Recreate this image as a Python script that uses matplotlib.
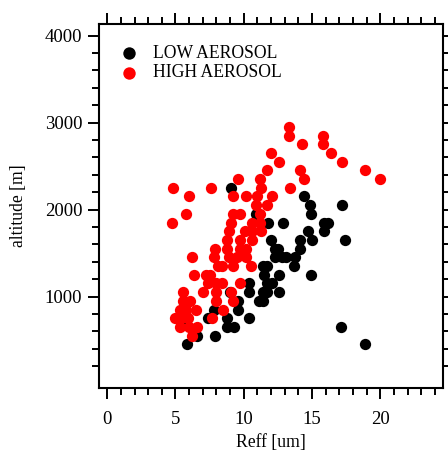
import matplotlib
matplotlib.use("Agg")
import matplotlib.pyplot as plt
from matplotlib.ticker import FixedLocator

plt.rcParams['font.family'] = ['Liberation Serif', 'DejaVu Serif']

# LOW AEROSOL (black) : Reff [um] and altitude [m]
low_reff = [9.05,
            14.45,
            14.85, 17.2,
            10.9, 14.95,
            11.8, 12.9, 15.9, 16.2,
            14.7, 15.85,
            12.0, 14.1, 15.0, 17.45,
            12.3, 12.5, 14.1,
            12.3, 12.8, 13.1, 13.75,
            11.4, 11.7, 13.7,
            11.5, 12.6, 14.95,
            10.4, 11.7, 12.05,
            9.0, 10.4, 11.4, 11.7, 12.6,
            9.6, 11.1, 11.4,
            5.6, 7.8, 9.6,
            5.6, 7.4, 8.75, 10.4,
            8.75, 9.3, 17.1,
            6.55, 7.9,
            5.85, 18.9]
low_alt = [2250,
           2150,
           2050, 2050,
           1950, 1950,
           1850, 1850, 1850, 1850,
           1750, 1750,
           1650, 1650, 1650, 1650,
           1550, 1550, 1550,
           1450, 1450, 1450, 1450,
           1350, 1350, 1350,
           1250, 1250, 1250,
           1150, 1150, 1150,
           1050, 1050, 1050, 1050, 1050,
           950, 950, 950,
           850, 850, 850,
           750, 750, 750, 750,
           650, 650, 650,
           550, 550,
           450, 450]

# HIGH AEROSOL (red)
high_reff = [13.3,
             13.3, 15.8,
             14.3, 15.8,
             12.0, 16.4,
             12.6, 17.2,
             11.7, 14.1, 18.9,
             9.6, 11.2, 14.4, 20.0,
             4.85, 7.6, 11.3, 13.4,
             6.0, 9.25, 10.15, 11.0, 12.1,
             10.9, 11.7,
             5.8, 9.25, 9.7, 11.2,
             4.75, 9.1, 10.6, 11.2,
             8.9, 10.1, 10.6, 11.3,
             8.75, 9.7, 10.6,
             7.9, 8.75, 9.7, 10.2,
             6.2, 7.8, 8.9, 9.5, 10.2,
             8.15, 8.4, 9.2, 10.5,
             6.35, 7.2, 7.5,
             7.4, 8.0, 8.4, 9.7,
             5.55, 7.05, 8.0, 9.1,
             5.55, 6.1, 8.0, 9.2,
             5.3, 5.8, 6.5, 8.5,
             5.0, 5.4, 5.9, 7.7,
             5.3, 6.0, 6.6,
             6.2]
high_alt = [2950,
            2850, 2850,
            2750, 2750,
            2650, 2650,
            2550, 2550,
            2450, 2450, 2450,
            2350, 2350, 2350, 2350,
            2250, 2250, 2250, 2250,
            2150, 2150, 2150, 2150, 2150,
            2050, 2050,
            1950, 1950, 1950, 1950,
            1850, 1850, 1850, 1850,
            1750, 1750, 1750, 1750,
            1650, 1650, 1650,
            1550, 1550, 1550, 1550,
            1450, 1450, 1450, 1450, 1450,
            1350, 1350, 1350, 1350,
            1250, 1250, 1250,
            1150, 1150, 1150, 1150,
            1050, 1050, 1050, 1050,
            950, 950, 950, 950,
            850, 850, 850, 850,
            750, 750, 750, 750,
            650, 650, 650,
            550]

fig = plt.figure(figsize=(4.48, 4.51), dpi=100)
ax = fig.add_axes([0.221, 0.14, 0.768, 0.807])

ax.scatter(low_reff, low_alt, s=66, c='black', linewidths=0, label='LOW AEROSOL')
ax.scatter(high_reff, high_alt, s=66, c='#ff0000', linewidths=0, label='HIGH AEROSOL')

ax.set_xlim(-0.6, 24.6)
ax.set_ylim(-50, 4134)

ax.xaxis.set_major_locator(FixedLocator([0, 5, 10, 15, 20]))
ax.xaxis.set_minor_locator(FixedLocator(list(range(0, 25))))
ax.yaxis.set_major_locator(FixedLocator([1000, 2000, 3000, 4000]))
ax.yaxis.set_minor_locator(FixedLocator(list(range(200, 4001, 200))))

for sp in ax.spines.values():
    sp.set_linewidth(1.5)

ax.tick_params(which='both', direction='out', top=True, right=True, width=1.4,
               labelsize=13.5)
ax.tick_params(which='major', length=8)
ax.tick_params(which='minor', length=5)
ax.tick_params(axis='x', which='major', pad=9)
ax.tick_params(axis='y', which='major', pad=4)

ax.set_xlabel('Reff [um]', fontsize=12.7, labelpad=4)
ax.set_ylabel('altitude [m]', fontsize=12.7, labelpad=13)

ax.legend(loc='upper left', bbox_to_anchor=(0.061, 0.942), frameon=False,
          fontsize=12.7, handlelength=1.0, handletextpad=0.86, markerscale=1.1,
          labelspacing=0.13, borderaxespad=0, borderpad=0)

fig.savefig('out.png', dpi=100)
